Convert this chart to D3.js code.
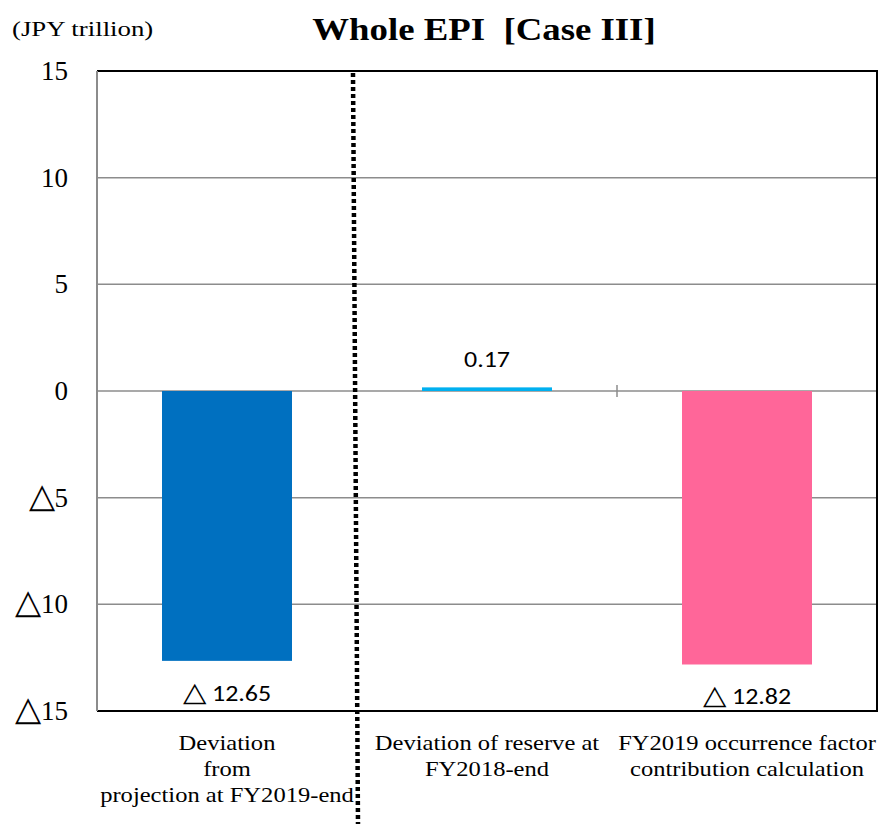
<!DOCTYPE html>
<html>
<head>
<meta charset="utf-8">
<script src="https://cdn.jsdelivr.net/npm/d3@7"></script>
<style>
  html, body { margin: 0; padding: 0; background: #fff; }
  svg { display: block; }
  .serif { font-family: "Times New Roman", Times, "Liberation Serif", serif; }
  .sans { font-family: Carlito, Calibri, Lato, "Open Sans", sans-serif; }
</style>
</head>
<body>
<svg id="chart" width="879" height="824"></svg>
<script>
// Data
const categories = [
  ["Deviation", "from", "projection at FY2019-end"],
  ["Deviation of reserve at", "FY2018-end"],
  ["FY2019 occurrence factor", "contribution calculation"]
];
const values = [-12.65, 0.17, -12.82];
const barColors = ["#0070C0", "#00B0F0", "#FF6699"];
const yTicks = [15, 10, 5, 0, -5, -10, -15];

(function () {
  const svg = d3.select("#chart");

  const plotL = 97, plotR = 877, plotT = 71, plotB = 711;

  // Text placed at (x, y) and widened horizontally by sx
  function label(parent, cls, x, y, sx, size, anchor) {
    return parent.append("text")
      .attr("class", cls)
      .attr("transform", `translate(${x},${y}) scale(${sx},1)`)
      .attr("font-size", size)
      .attr("text-anchor", anchor)
      .attr("fill", "#000");
  }

  // Negative amounts are written with a triangle instead of a minus sign
  function addAmount(t, v, triSize, gap) {
    if (v < 0) {
      t.append("tspan").attr("font-size", triSize).text("△");
      t.append("tspan").text(gap + d3.format(".2~f")(-v));
    } else {
      t.append("tspan").text(d3.format(".2~f")(v));
    }
  }

  const x = d3.scaleBand()
    .domain(d3.range(categories.length))
    .range([plotL, plotR])
    .paddingInner(0.5)
    .paddingOuter(0.25);

  const y = d3.scaleLinear().domain([-15, 15]).range([plotB, plotT]);

  // Gridlines
  svg.append("g")
    .selectAll("line")
    .data(yTicks.filter(d => d !== 15 && d !== -15))
    .join("line")
    .attr("x1", plotL).attr("x2", plotR)
    .attr("y1", d => y(d)).attr("y2", d => y(d))
    .attr("stroke", "#8c8c8c").attr("stroke-width", 1.5);

  // Plot border: black top, right and bottom
  svg.append("path")
    .attr("d", `M${plotL},${plotT}H${plotR}V${plotB}H${plotL}`)
    .attr("fill", "none").attr("stroke", "#000").attr("stroke-width", 2);

  // Left axis line
  svg.append("line")
    .attr("x1", plotL).attr("x2", plotL)
    .attr("y1", plotT).attr("y2", plotB)
    .attr("stroke", "#8c8c8c").attr("stroke-width", 2);

  // Category separator tick on the zero line
  const sepX = plotL + x.step() * 2;
  svg.append("line")
    .attr("x1", sepX).attr("x2", sepX)
    .attr("y1", y(0) - 6).attr("y2", y(0) + 6)
    .attr("stroke", "#8c8c8c").attr("stroke-width", 1.5);

  // Y-axis labels
  const yg = svg.append("g");
  yTicks.forEach(d => {
    const t = label(yg, "serif", 68, y(d) + 9, 1, 27, "end");
    if (d < 0) {
      t.append("tspan").attr("font-size", 34).text("△");
      t.append("tspan").text(-d);
    } else {
      t.text(d);
    }
  });

  // Bars
  svg.append("g")
    .selectAll("rect")
    .data(values)
    .join("rect")
    .attr("x", (d, i) => x(i))
    .attr("width", x.bandwidth())
    .attr("y", d => y(Math.max(0, d)))
    .attr("height", d => Math.abs(y(d) - y(0)))
    .attr("fill", (d, i) => barColors[i]);

  // Value labels
  const vg = svg.append("g");
  values.forEach((v, i) => {
    const cx = x(i) + x.bandwidth() / 2;
    const ty = v < 0 ? y(v) + 40 : y(v) - 20;
    const t = label(vg, "sans", cx, ty, 1.13, 23, "middle");
    addAmount(t, v, 27, " ");
  });

  // Category labels
  const catG = svg.append("g");
  categories.forEach((lines, i) => {
    const cx = x(i) + x.bandwidth() / 2;
    lines.forEach((line, j) => {
      label(catG, "serif", cx, 750 + j * 26, 1.17, 21, "middle").text(line);
    });
  });

  // Dotted divider
  svg.append("line")
    .attr("x1", 353).attr("y1", plotT + 2)
    .attr("x2", 358).attr("y2", 824)
    .attr("stroke", "#000").attr("stroke-width", 4.5)
    .attr("stroke-dasharray", "4,3");

  // Title and unit
  label(svg, "serif", 484, 40, 1.15, 32, "middle")
    .attr("font-weight", "bold")
    .style("white-space", "pre")
    .text("Whole EPI  [Case III]");

  label(svg, "serif", 12, 36, 1.22, 22, "start")
    .text("(JPY trillion)");
})();
</script>
</body>
</html>
